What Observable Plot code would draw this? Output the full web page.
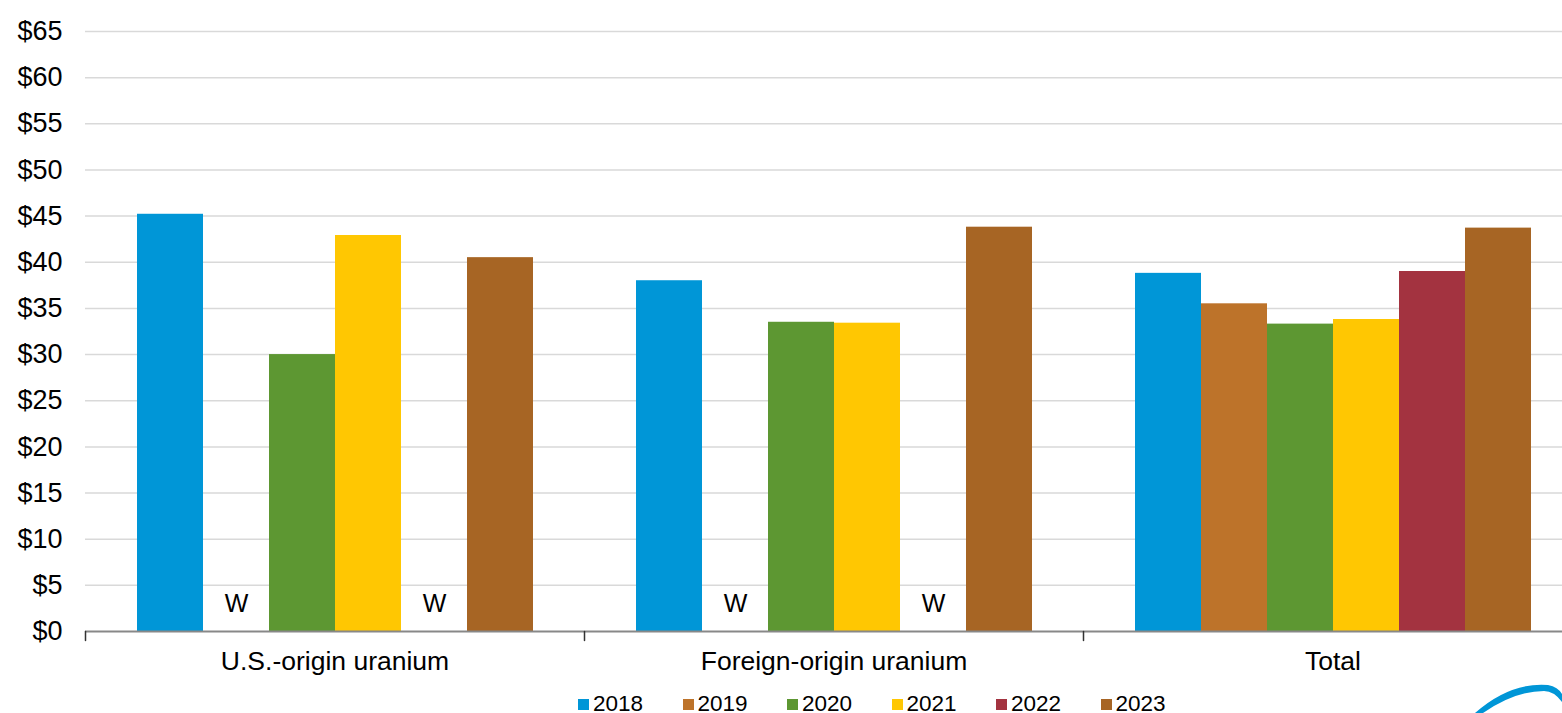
<!DOCTYPE html>
<html><head><meta charset="utf-8">
<script src="https://cdn.jsdelivr.net/npm/d3@7"></script>
<script src="https://cdn.jsdelivr.net/npm/@observablehq/plot@0.6"></script>
<style>
html,body{margin:0;padding:0;background:#fff;overflow:hidden;width:1562px;height:713px;}
#chart{position:absolute;left:0;top:0;}
#legend{position:absolute;left:578px;top:691px;display:flex;font-family:"Liberation Sans",Arial,sans-serif;font-size:22.5px;line-height:26px;color:#000;}
.item{width:104.5px;display:flex;align-items:center;}
.sw{width:11px;height:11px;margin-right:4px;}
#logo{position:absolute;left:1470px;top:680px;}
</style></head><body>
<div id="chart"></div><div id="legend"></div>
<svg id="logo" width="92" height="33"><path d="M5 33 Q40 2 78 5 Q88 7 92 14 L92 22 Q84 11 74 11 Q45 11 13 33 Z" fill="#0096d7"/></svg>
<script>
const groups = ["U.S.-origin uranium", "Foreign-origin uranium", "Total"];
const years = ["2018", "2019", "2020", "2021", "2022", "2023"];
const usOrigin = [45.2, null, 30.0, 42.9, null, 40.5];
const foreignOrigin = [38.0, null, 33.5, 33.4, null, 43.8];
const total = [38.8, 35.5, 33.3, 33.8, 39.0, 43.7];
const yearColors = ["#0096d7", "#bd732a", "#5d9732", "#ffc702", "#a33340", "#a76524"];
const yTicks = [0, 5, 10, 15, 20, 25, 30, 35, 40, 45, 50, 55, 60, 65];
const withheldLabel = "W";

const series = [usOrigin, foreignOrigin, total];
const rows = groups.flatMap((g, i) => years.map((y, j) => ({group: g, year: y, value: series[i][j]})));

const tickShape = {draw(ctx, l) { ctx.moveTo(0, 0); ctx.lineTo(0, -l); }};

const chart = Plot.plot({
  width: 1600, height: 690,
  marginLeft: 85, marginRight: 18, marginTop: 31, marginBottom: 59,
  style: {fontFamily: "'Liberation Sans', Arial, sans-serif", fontSize: "22px", color: "#000", background: "#fff", maxWidth: "none", overflow: "visible"},
  fx: {domain: groups, padding: 0, label: null},
  x: {domain: years, paddingInner: 0, paddingOuter: 0.75, axis: null},
  y: {domain: [0, 65]},
  color: {domain: years, range: yearColors},
  marks: [
    Plot.gridY(yTicks.filter(t => t > 0), {stroke: "#d9d9d9", strokeOpacity: 1, strokeWidth: 1.5}),
    Plot.axisY(yTicks, {tickSize: 0, tickPadding: 23, tickFormat: d => "$" + d, fontSize: 27, label: null}),
    Plot.barY(rows.filter(d => d.value != null), {fx: "group", x: "year", y: "value", fill: "year"}),
    Plot.text(rows.filter(d => d.value == null), {fx: "group", x: "year", y: 0, text: () => withheldLabel, dy: -27.5, fontSize: 25, fill: "#000"}),
    Plot.ruleY([0], {stroke: "#888", strokeWidth: 2}),
    Plot.vector(groups, {fx: d => d, frameAnchor: "bottom-left", length: 9, rotate: 180, anchor: "start", shape: tickShape, stroke: "#333", strokeWidth: 1.5}),
    Plot.axisFx({anchor: "bottom", tickSize: 0, tickPadding: 20, fontSize: 26.5, label: null})
  ]
});
document.getElementById("chart").appendChild(chart);

const legend = document.getElementById("legend");
years.forEach((y, i) => {
  const item = document.createElement("div");
  item.className = "item";
  const sw = document.createElement("span");
  sw.className = "sw";
  sw.style.background = yearColors[i];
  const t = document.createElement("span");
  t.textContent = y;
  item.appendChild(sw); item.appendChild(t);
  legend.appendChild(item);
});
</script>
</body></html>
